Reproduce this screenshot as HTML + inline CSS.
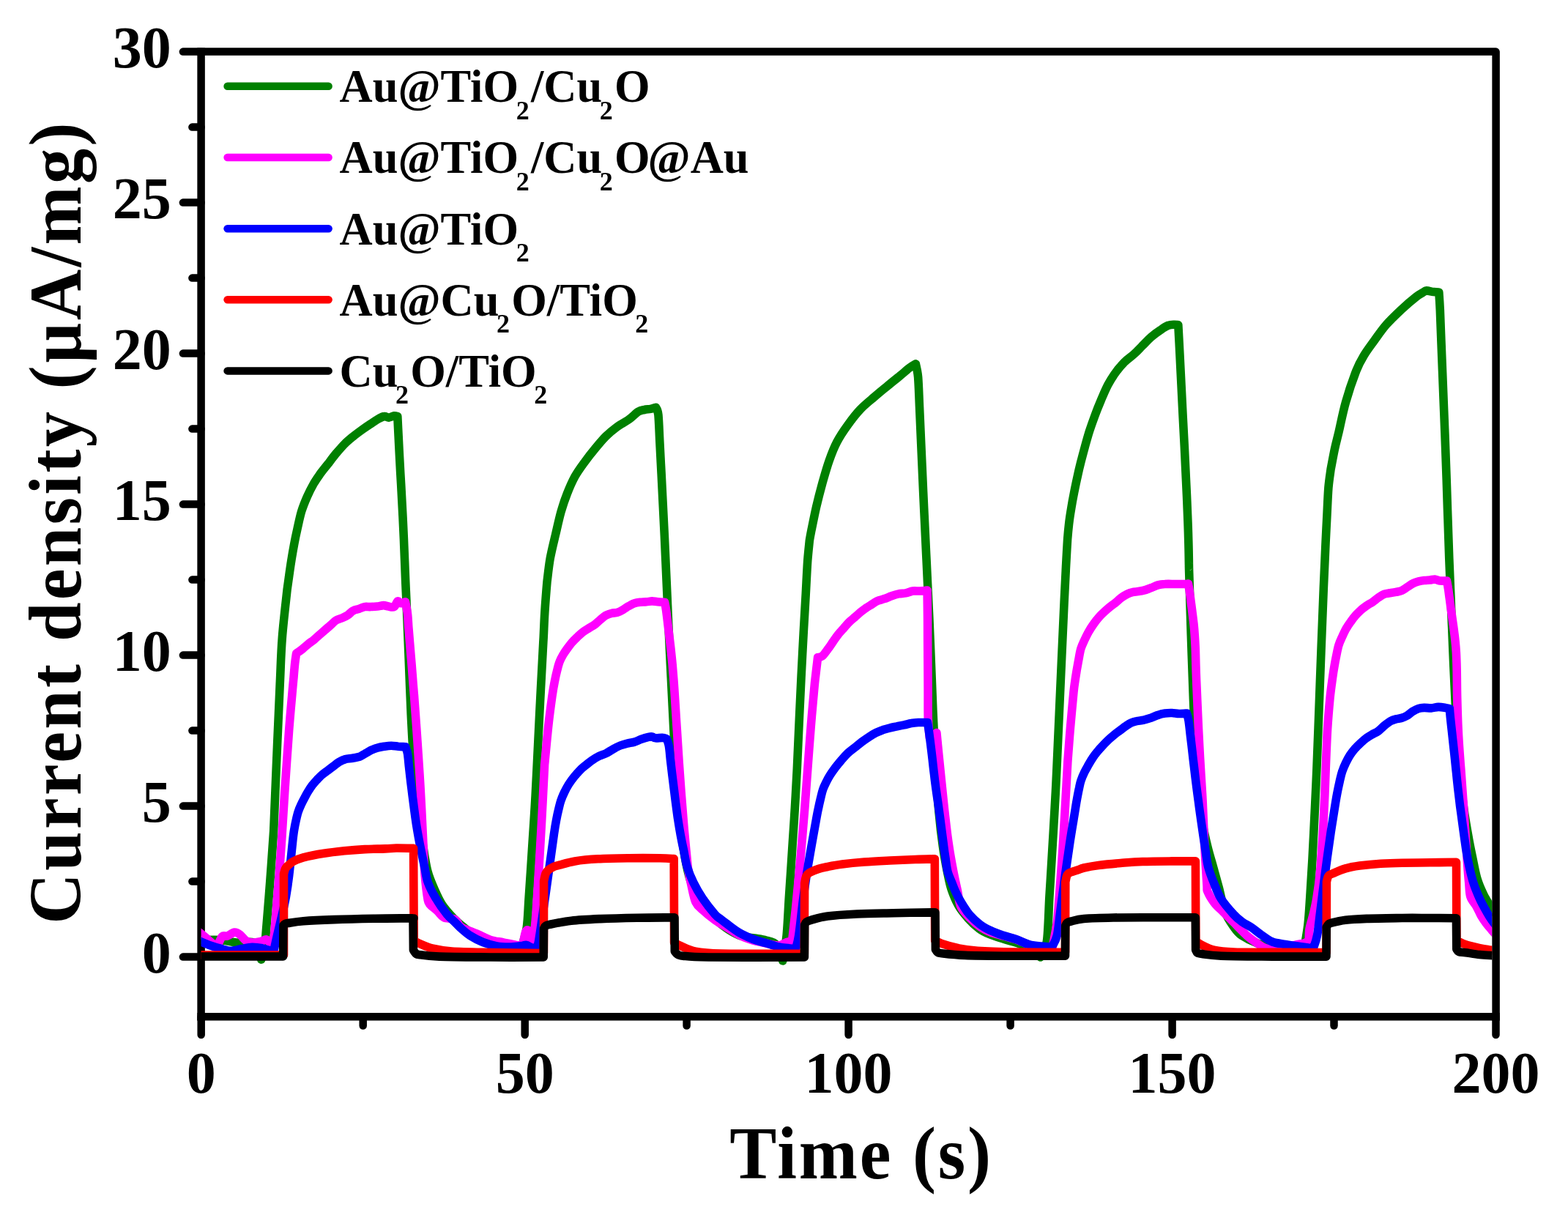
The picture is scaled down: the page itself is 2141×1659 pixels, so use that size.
<!DOCTYPE html>
<html lang="en">
<head>
<meta charset="utf-8">
<title>Current density vs Time</title>
<style>
html,body{margin:0;padding:0;background:#fff;}
body{width:2141px;height:1659px;overflow:hidden;}
svg{display:block;}
text{font-family:"Liberation Serif","DejaVu Serif",serif;font-weight:bold;fill:#000;}
.ax{stroke:#000;stroke-width:10.5;fill:none;stroke-linecap:round;}
.cv{fill:none;stroke-width:11.6;stroke-linejoin:round;stroke-linecap:butt;}
.lg{stroke-width:10.5;stroke-linecap:round;fill:none;}
.tk{font-size:80px;}
.tt{font-size:102.3px;}
.lt{font-size:62.5px;}
.sb{font-size:36px;}
</style>
</head>
<body>
<svg width="2141" height="1659" viewBox="0 0 2141 1659">
<rect x="0" y="0" width="2141" height="1659" fill="#fff"/>
<defs><clipPath id="clip"><rect x="274.6" y="70.6" width="1762.8" height="1317.7"/></clipPath></defs>
<g class="ax">
<path d="M274.6 65.3 V1393.5" stroke-linecap="butt"/>
<path d="M269.4 1388.3 H2047.8" stroke-linecap="butt"/>
<path d="M274.6 1306.6 H249.9"/>
<path d="M274.6 1100.6 H249.9"/>
<path d="M274.6 894.6 H249.9"/>
<path d="M274.6 688.6 H249.9"/>
<path d="M274.6 482.6 H249.9"/>
<path d="M274.6 276.6 H249.9"/>
<path d="M274.6 70.6 H249.9"/>
<path d="M274.6 1203.6 H262.4"/>
<path d="M274.6 997.6 H262.4"/>
<path d="M274.6 791.6 H262.4"/>
<path d="M274.6 585.6 H262.4"/>
<path d="M274.6 379.6 H262.4"/>
<path d="M274.6 173.6 H262.4"/>
<path d="M274.7 1388.3 V1413"/>
<path d="M716.7 1388.3 V1413"/>
<path d="M1158.6 1388.3 V1413"/>
<path d="M1600.6 1388.3 V1413"/>
<path d="M2042.5 1388.3 V1413"/>
<path d="M495.7 1388.3 V1400.5"/>
<path d="M937.6 1388.3 V1400.5"/>
<path d="M1379.6 1388.3 V1400.5"/>
<path d="M1821.5 1388.3 V1400.5"/>
</g>
<g clip-path="url(#clip)">
<path class="cv" stroke="#008000" d="M274 1283.6C278.7 1283.6 293.9 1283 302 1283.6C310.2 1284.2 316 1286.7 323.1 1287.1C330.1 1287.6 339.2 1285.7 344.1 1286.4C349 1287.1 350.4 1287.4 352.5 1291.3C354.6 1295.3 356 1307.1 356.7 1310.2C357.4 1307.6 360 1301.5 361.2 1294.1C362.4 1286.8 362.5 1281.3 363.8 1266.1C365.1 1250.9 367.2 1224.1 368.8 1203.1C370.4 1182 372.4 1153.1 373.3 1140C374.1 1126.9 373.2 1144.5 374.1 1124.3C375 1104.1 377.1 1050.4 378.5 1018.8C379.8 987.1 381.1 959 382.2 934.4C383.4 909.8 383.6 892.7 385.3 871.1C386.9 849.5 391 816 392.1 805C392.5 802.3 393.5 795.1 394.4 788.6C395.3 782.1 396.5 773.5 397.7 766C398.9 758.4 400.2 750.9 401.6 743.4C403 735.8 404.6 728.3 406.3 720.8C408 713.2 409.6 705.2 411.7 698.2C413.9 691.1 416.5 684.8 419.2 678.6C422 672.3 425.3 665.8 428.3 660.5C431.3 655.2 434.1 651.4 437.3 646.9C440.6 642.4 444.4 637.9 447.9 633.4C451.4 628.8 454.7 624.3 458.4 619.8C462.2 615.3 466.5 610.3 470.5 606.2C474.5 602.2 478.5 599 482.5 595.7C486.6 592.4 490.6 589.5 494.6 586.6C498.6 583.8 502.9 580.9 506.7 578.4C510.4 575.8 514.2 573.2 517.2 571.6C520.2 569.9 522.5 568.8 524.7 568.6C527 568.3 528.5 570.2 530.8 570.1C533 569.9 536.3 568.1 538.3 567.8C540.3 567.6 542.1 568.4 542.8 568.6C542.9 571.3 543.2 577.4 543.6 585.1C544 592.9 544.6 605.2 545.1 615.3C545.6 625.3 546.2 635.4 546.7 645.4C547.3 655.5 547.9 665.5 548.4 675.6C548.9 685.6 549.5 695.6 550 705.7C550.5 715.7 550.9 725.8 551.4 735.8C551.8 745.9 552.1 754.4 552.6 766C553 777.5 553.6 792 554.2 805C554.8 818 555.3 828.1 555.9 843.9C556.6 859.7 557.3 877.8 558.2 900C559.1 922.2 560.2 953.7 561.3 977C562.5 1000.3 563.4 1019.5 564.9 1040C566.4 1060.5 568.2 1080.8 570.3 1100C572.5 1119.2 575.5 1140 577.7 1155C580 1170 581.3 1179.8 584 1190C586.7 1200.2 590.8 1208.7 594 1216C597.2 1223.3 599.7 1228.7 603 1234C606.3 1239.3 609.8 1243.3 614 1248C618.2 1252.7 622.8 1257.5 628 1262C633.2 1266.5 639.3 1271.3 645 1275C650.7 1278.7 656.2 1281.5 662 1284C667.8 1286.5 673.7 1288.5 680 1290C686.3 1291.5 694.7 1292.3 700 1293C705.3 1293.7 710 1293.8 712 1294C713.2 1289.5 717.5 1278.3 719.2 1266.8C720.9 1255.3 720.9 1243.5 722.2 1224.8C723.5 1206.2 725.5 1175.3 726.8 1154.9C728.2 1134.5 729.1 1119.9 730.2 1102.4C731.2 1085 732 1071 733 1050C734.1 1029 735.2 1002.9 736.6 976.6C737.9 950.3 740 910 741 892.2C741.9 874.4 741.7 879.3 742.2 870C742.7 860.7 743 849.1 743.8 836.5C744.6 823.8 746.4 801.3 747 794.3C747.7 789 749.3 773.2 751.2 762.6C753.1 752.1 755.8 741.5 758.3 731C760.8 720.4 763.3 708.8 765.9 699.3C768.6 689.8 771.2 682.1 774.4 674C777.6 665.9 781.1 657.8 784.9 650.8C788.8 643.8 793 638.1 797.6 631.8C802.2 625.5 807.4 618.8 812.4 612.8C817.3 606.8 822.2 600.9 827.1 595.9C832.1 591 836.6 587.2 841.9 583.3C847.2 579.4 853.9 576.3 858.8 572.7C863.7 569.2 867.9 564.4 871.4 562.2C875 560 877.1 560.1 879.9 559.5C882.7 558.8 885.7 558.9 888.3 558.4C890.9 557.9 894.5 556.6 895.7 556.3C896.2 558 898 558.4 898.9 566.4C899.7 574.4 900.2 591 900.9 604.4C901.6 617.7 902.3 632.5 903.1 646.6C903.8 660.6 904.5 674.7 905.2 688.8C905.9 702.8 906.6 716.9 907.3 731C907.9 745 908.6 759.1 909.2 773.2C909.9 787.2 910.4 801.3 911.1 815.4C911.7 829.4 911.8 834.2 913 857.6C914.1 880.9 916.4 928.6 917.8 955.5C919.1 982.4 919.9 997.7 921.1 1018.8C922.3 1039.9 923.5 1062.7 924.9 1082C926.4 1101.3 927.9 1119.3 929.8 1134.8C931.6 1150.3 934.1 1164.1 936.1 1175C938.2 1185.9 939.4 1192.2 942 1200C944.6 1207.8 948.2 1215 952 1222C955.8 1229 960.3 1236 965 1242C969.7 1248 974.8 1253.3 980 1258C985.2 1262.7 990.7 1266.7 996 1270C1001.3 1273.3 1006.3 1276.2 1012 1278C1017.7 1279.8 1024.3 1280 1030 1281C1035.7 1282 1041 1282.5 1046 1284C1051 1285.5 1056.2 1285.3 1060 1290C1063.8 1294.7 1067.3 1308.3 1068.8 1312C1069.7 1306.2 1072.6 1291.8 1074.1 1277.3C1075.5 1262.7 1076.1 1245.2 1077.4 1224.8C1078.8 1204.4 1080.7 1175.3 1082 1154.9C1083.3 1134.5 1084.4 1119.9 1085.4 1102.4C1086.4 1085 1087.2 1071 1088.3 1050C1089.3 1029 1090.3 1002.9 1091.6 976.6C1092.8 950.3 1094.2 920 1095.7 892.2C1097.1 864.4 1099.1 831 1100.3 810C1101.4 789 1101.9 777.8 1102.7 765.9C1103.6 754 1104.9 743.1 1105.3 738.5C1105.7 736 1106.5 731.4 1108 723.7C1109.6 716 1112.2 702.6 1114.6 692.1C1117.1 681.5 1119.8 671 1122.7 660.4C1125.7 649.9 1128.9 638.3 1132.3 628.8C1135.6 619.3 1138.6 611.5 1142.8 603.5C1147 595.4 1152.3 587.6 1157.6 580.3C1162.9 572.9 1168.5 565.5 1174.5 559.2C1180.5 552.8 1187.1 547.7 1193.5 542.3C1199.8 536.8 1206.5 531.4 1212.4 526.5C1218.4 521.5 1224.4 516.8 1229.3 512.7C1234.2 508.7 1238.5 504.8 1242 502.2C1245.5 499.6 1249 497.8 1250.4 496.9C1250.9 499.9 1252.7 505.2 1253.6 514.9C1254.4 524.5 1254.8 539.5 1255.5 554.9C1256.2 570.4 1257 588.3 1257.8 607.7C1258.7 627 1259.8 653.4 1260.6 671C1261.4 688.6 1261.9 699.1 1262.6 713.2C1263.3 727.2 1263.9 741.3 1264.6 755.4C1265.3 769.4 1266 782.9 1266.6 797.6C1267.3 812.2 1268 825.1 1268.8 843.3C1269.6 861.5 1270.6 885.5 1271.4 906.6C1272.3 927.7 1272.9 946 1273.9 969.9C1275 993.8 1276.5 1026.7 1277.8 1050C1279.2 1073.3 1280.5 1092.5 1282.1 1110C1283.7 1127.5 1285.4 1141.7 1287.3 1155C1289.1 1168.3 1291.4 1180.2 1293.4 1190C1295.4 1199.8 1296.4 1206.2 1299 1214C1301.6 1221.8 1305.2 1230.3 1309 1237C1312.8 1243.7 1317.3 1248.8 1322 1254C1326.7 1259.2 1332 1264.3 1337 1268C1342 1271.7 1346.5 1273.7 1352 1276C1357.5 1278.3 1364.2 1280.2 1370 1282C1375.8 1283.8 1381.5 1285.3 1387 1287C1392.5 1288.7 1398.5 1291 1403 1292C1407.5 1293 1411.1 1290.5 1414 1293C1416.9 1295.5 1419.5 1304.7 1420.6 1307C1422.1 1303.5 1427.2 1299.7 1429.3 1286C1431.4 1272.3 1431.8 1243.8 1432.9 1224.8C1434.1 1205.9 1434.9 1192.8 1436.1 1172.4C1437.3 1152 1439.1 1122.8 1440.2 1102.4C1441.3 1082.1 1441.4 1082.6 1442.9 1050C1444.4 1017.4 1447.6 944.5 1449.3 906.6C1451 868.6 1452.1 843.3 1453.1 822.2C1454.1 801.1 1454.7 788.7 1455.2 780C1455.6 771.3 1455.3 777.3 1455.7 770C1456.1 762.7 1457 745.6 1457.6 736.5C1458.3 727.3 1458.8 722.4 1459.6 715.4C1460.4 708.3 1461.5 701.3 1462.7 694.3C1463.8 687.2 1465.1 680.2 1466.5 673.2C1467.9 666.1 1469.3 659.1 1470.9 652.1C1472.4 645 1474 638 1475.8 631C1477.6 623.9 1479.5 616.9 1481.4 609.9C1483.4 602.8 1485.3 595.8 1487.5 588.8C1489.8 581.7 1492.3 574.7 1494.9 567.7C1497.5 560.6 1500.3 553.6 1503.3 546.6C1506.3 539.5 1509.5 531.8 1512.8 525.5C1516.2 519.2 1519.5 513.9 1523.4 508.6C1527.2 503.3 1531.8 498.1 1536 493.8C1540.3 489.6 1544.8 486.8 1548.7 483.3C1552.6 479.8 1555.4 476.6 1559.2 472.7C1563.1 468.9 1567.7 463.8 1571.9 460.1C1576.1 456.4 1580.7 453.2 1584.6 450.6C1588.4 448 1591.9 445.5 1595.1 444.3C1598.3 443 1601.3 443.3 1603.5 443.2C1605.8 443.1 1607.9 443.6 1608.8 443.6C1609.2 450.2 1610.2 469.6 1610.9 483.3C1611.6 496.9 1612.3 511.4 1613 525.5C1613.7 539.5 1614.4 553.6 1615.1 567.7C1615.9 581.7 1616.6 595.8 1617.3 609.9C1618 623.9 1618.7 638 1619.3 652.1C1620 666.1 1620.7 680.2 1621.2 694.3C1621.8 708.3 1622.4 723.8 1622.7 736.5C1623.1 749.1 1623.3 762.4 1623.4 770C1623.6 777.6 1623.2 766.1 1623.7 782.2C1624.2 798.3 1625.4 838.5 1626.3 866.6C1627.3 894.7 1628.2 923.8 1629.3 951C1630.4 978.2 1631.5 1007.5 1632.8 1030C1634.1 1052.5 1635.3 1069.3 1637 1086C1638.7 1102.7 1641 1117.7 1643.1 1130C1645.3 1142.3 1647.6 1151 1649.8 1160C1652.1 1169 1654.2 1175.3 1656.6 1184C1659 1192.7 1661.6 1201.8 1664.3 1212C1667 1222.2 1669.3 1236 1672.7 1245C1676.1 1254 1681.1 1260.6 1684.9 1266C1688.7 1271.4 1690.2 1273.7 1695.4 1277.3C1700.7 1280.9 1709 1285.2 1716.4 1287.8C1723.8 1290.4 1731.9 1292 1740 1293C1748.1 1294 1758.2 1293.8 1765 1294C1771.8 1294.2 1778.3 1294 1781 1294C1781.8 1288.7 1784.7 1273.5 1786 1262C1787.3 1250.5 1787.8 1239.8 1788.8 1224.8C1789.8 1209.9 1790.8 1192.8 1792 1172.4C1793.1 1152 1794.5 1122.8 1795.5 1102.4C1796.5 1082.1 1797.1 1068.2 1797.9 1050C1798.6 1031.8 1799.1 1020.2 1800.1 993.2C1801.1 966.1 1802.8 919.3 1804 887.7C1805.2 856 1806.3 827.9 1807.3 803.3C1808.3 778.7 1809.4 755.5 1810.1 740C1810.8 724.5 1811 722.4 1811.6 710.1C1812.3 697.7 1813 677.5 1813.9 666C1814.9 654.4 1816.6 644.9 1817.1 640.6C1818 636.1 1820.6 621.6 1822.4 613.2C1824.2 604.8 1825.4 600.7 1828 590C1830.5 579.3 1833.6 562.7 1837.6 548.8C1841.5 535 1847.6 517.2 1851.7 506.6C1855.8 496.1 1858 492.6 1862.3 485.5C1866.5 478.5 1871.9 471.5 1877 464.4C1882.1 457.4 1886.7 450.4 1892.9 443.3C1899 436.3 1907.2 428.6 1914 422.2C1920.7 415.9 1928.8 409.2 1933.6 405.4C1938.4 401.6 1940.3 400.9 1942.7 399.5C1945 398.1 1945.5 397.1 1947.9 396.9C1950.4 396.8 1954.6 398.3 1957.4 398.6C1960.2 399 1963.6 399 1964.8 399C1965.1 403.1 1965.8 412.2 1966.3 423.3C1966.8 434.4 1967.2 447.9 1967.9 465.5C1968.6 483.1 1969.6 507.7 1970.4 528.8C1971.2 549.9 1972.1 571 1972.9 592.1C1973.7 613.2 1974.5 635.7 1975.2 655.4C1975.9 675.1 1976.3 692.1 1977 710.1C1977.6 728 1978.1 743.9 1978.8 763.3C1979.6 782.7 1980.5 805.5 1981.4 826.6C1982.2 847.7 1983.1 868.8 1984 889.9C1984.9 911 1985.8 931.5 1986.9 953.2C1988 974.9 1989.3 999.7 1990.7 1020C1992.1 1040.3 1993.8 1060 1995.3 1075C1996.8 1090 1998.1 1099.2 1999.6 1110C2001.2 1120.8 2002.8 1130 2004.6 1140C2006.3 1150 2008.3 1160 2010.4 1170C2012.5 1180 2014.4 1191.3 2017 1200C2019.6 1208.7 2022.9 1215.7 2026 1222C2029.1 1228.3 2032.5 1233.3 2035.5 1238C2038.5 1242.7 2042.6 1248 2044 1250"/>
<path class="cv" stroke="#ff00ff" d="M268.4 1270.3C269.3 1271 271.7 1272.6 274 1274.5C276.3 1276.4 279.6 1279.2 282.4 1281.5C285.2 1283.9 288.5 1286.9 290.8 1288.5C293.2 1290.2 294.3 1293 296.4 1291.3C298.5 1289.7 301.1 1280.9 303.4 1278.7C305.8 1276.5 307.6 1279 310.4 1278C313.2 1277.1 317.4 1273.5 320.3 1273.1C323.1 1272.8 324.7 1274 327.3 1275.9C329.8 1277.8 332.9 1282.5 335.7 1284.3C338.5 1286.2 340.8 1286.9 344.1 1287.1C347.3 1287.4 352 1286.4 355.3 1285.7C358.6 1285 361.4 1282.5 363.7 1282.9C366 1283.4 367.9 1286.7 369.3 1288.5C370.7 1290.4 371.6 1293.2 372.1 1294.1C372.4 1291.8 373.3 1289.5 374.2 1280.1C375.1 1270.8 376.3 1254.4 377.6 1238.1C378.9 1221.7 380.9 1198.4 382.1 1182C383.3 1165.7 384 1156.7 385.1 1140C386.2 1123.3 387.1 1105.8 388.7 1082.1C390.3 1058.3 393 1019.7 394.6 997.7C396.3 975.7 397.6 962.1 398.7 950C399.7 937.9 400.3 932.4 401 925C401.6 917.6 402.1 911.2 402.7 905.7C403.3 900.3 404.3 894.5 404.6 892.2C406 891.3 410.1 888.5 412.8 886.4C415.4 884.3 417.9 881.8 420.5 879.7C423.1 877.6 425.6 876 428.2 873.9C430.8 871.8 433.4 869.4 435.9 867.1C438.5 864.9 441.1 862.6 443.6 860.4C446.2 858.1 448.8 855.9 451.4 853.6C453.9 851.4 456.5 848.5 459.1 846.9C461.6 845.3 464.2 845.1 466.8 844C469.4 842.9 471.9 841.8 474.5 840.1C477.1 838.5 479.6 835.3 482.2 833.9C484.8 832.4 487.4 832.3 489.9 831.5C492.5 830.6 495.1 829.1 497.6 828.6C500.2 828.1 502.5 828.7 505.4 828.6C508.3 828.5 512 828.4 515 828.1C518.1 827.8 521.1 826.6 523.7 826.6C526.3 826.6 528 827.8 530.4 828.1C532.8 828.4 536.1 829.8 538.1 828.6C540.2 827.4 541.4 821.7 543 820.9C544.6 820.1 546 823.6 547.8 823.8C549.6 823.9 552.6 822.1 553.6 821.8C554.1 824.6 555.7 832.3 556.5 838.2C557.2 844.2 557.4 851.1 557.9 857.5C558.5 863.9 559 870.4 559.5 876.8C560 883.2 560.6 889.6 561.1 896.1C561.7 902.5 562.2 908.9 562.7 915.4C563.2 921.8 563.8 929 564.2 934.6C564.7 940.3 565.1 945.6 565.4 949.1C565.7 952.6 565.1 943.9 565.9 955.5C566.8 967.1 569 997.7 570.4 1018.8C571.8 1039.9 573.3 1061 574.4 1082.1C575.6 1103.2 576.8 1128.5 577.6 1145.4C578.4 1162.2 578.7 1173.4 579.3 1183.4C579.9 1193.4 580.3 1197.9 581.1 1205.1C581.9 1212.3 583 1221.9 583.9 1226.8C584.8 1231.7 584.4 1231.5 586.6 1234.4C588.9 1237.3 594.1 1241 597.4 1244.1C600.6 1247.2 602.1 1250.9 606.1 1252.8C610.1 1254.7 617.6 1253.5 621.3 1255.5C624.9 1257.5 625.7 1262.3 628 1264.5C630.3 1266.7 630.8 1266.7 634.9 1268.5C639 1270.4 646.6 1273 652.4 1275.5C658.2 1278 664 1281.5 669.9 1283.4C675.7 1285.3 681.5 1285.7 687.3 1286.9C693.2 1288.1 700.5 1289.7 704.8 1290.4C709.2 1291.1 712.1 1291.1 713.6 1291.3C714.3 1288.1 716.5 1275.2 717.9 1272C719.4 1268.8 720.9 1269.1 722.3 1272C723.8 1274.9 725.9 1286.6 726.7 1289.5C727.4 1284.6 729.6 1276.4 731 1259.8C732.5 1243.2 734.2 1213.2 735.6 1189.9C737.1 1166.6 738.4 1143.2 739.7 1119.9C741 1096.6 742.6 1063.3 743.3 1050C744 1036.7 743 1050.4 744 1039.9C745 1029.4 747.5 1002.1 749.2 987.1C750.9 972.1 752.7 959.5 754 950C755.4 940.4 756.3 935.6 757.5 929.8C758.6 924.1 759.6 919.7 760.7 915.4C761.8 911 762.6 907.3 764 903.8C765.3 900.3 767 897.2 768.8 894.1C770.6 891.1 772.5 888.4 774.6 885.5C776.7 882.6 778.9 879.5 781.3 876.8C783.7 874.1 786.5 871.5 789 869.1C791.6 866.7 794.2 864.3 796.8 862.3C799.3 860.4 801.9 859.1 804.5 857.5C807 855.9 809.6 854.6 812.2 852.7C814.8 850.8 817.3 848 819.9 845.9C822.5 843.8 825 841.6 827.6 840.1C830.2 838.7 832.8 837.9 835.3 837.3C837.9 836.6 840.5 837.1 843 836.3C845.6 835.5 848.2 833.9 850.8 832.4C853.3 831 855.9 829.1 858.5 827.6C861 826.2 863.6 824.6 866.2 823.8C868.8 822.9 871.2 822.6 873.9 822.3C876.6 822 879.8 822.1 882.6 821.8C885.3 821.6 887.7 820.9 890.3 820.9C892.9 820.9 895.1 821.6 898 821.8C900.9 822.1 906 822.2 907.6 822.3C908 824.2 909 829.1 909.6 833.4C910.2 837.7 910.7 842.2 911.4 847.9C912 853.5 912.9 860.7 913.7 867.1C914.5 873.6 915.3 880 916 886.4C916.7 892.9 917.4 899.3 918 905.7C918.6 912.1 919.1 918.6 919.6 925C920.1 931.4 920.2 932.2 921 944.3C921.8 956.4 923.1 978.2 924.4 997.7C925.6 1017.1 927 1039.9 928.6 1061C930.1 1082.1 931.8 1104.9 933.5 1124.3C935.1 1143.6 937.4 1166.1 938.5 1177C939.6 1187.9 939.3 1184.8 940.2 1189.9C941.1 1194.9 942 1200.3 943.7 1207.3C945.3 1214.3 947.2 1225.9 949.9 1231.8C952.7 1237.8 955.7 1239 960 1243C964.3 1247 970.7 1252.2 976 1256C981.3 1259.8 986.3 1262.5 992 1266C997.7 1269.5 1004 1274 1010 1277C1016 1280 1022 1282.2 1028 1284C1034 1285.8 1040.2 1286.8 1046 1288C1051.8 1289.2 1058 1291.3 1063 1291C1068 1290.7 1072.8 1286.2 1075.8 1286C1078.8 1285.8 1080.1 1289.3 1081 1290C1081.9 1282.1 1084.8 1256.1 1086.3 1242.3C1087.7 1228.5 1088.3 1221.9 1089.7 1207.3C1091.1 1192.8 1093 1172.4 1094.5 1154.9C1096 1137.4 1097.5 1119.9 1098.9 1102.4C1100.2 1085 1101.4 1068.6 1102.8 1050C1104.2 1031.4 1105.8 1009.3 1107.3 991C1108.8 972.6 1110.7 951 1111.8 940C1112.8 928.9 1112.8 929.6 1113.4 924.6C1114 919.7 1114.6 914.7 1115.1 910.2C1115.7 905.7 1116.3 899.7 1116.6 897.6C1117.6 897.3 1120.5 897.6 1122.9 895.7C1125.2 893.8 1128.2 889.3 1130.6 886.1C1133 882.9 1135.1 879.6 1137.3 876.4C1139.6 873.2 1141.7 869.8 1144.1 866.8C1146.5 863.7 1149.2 861 1151.8 858.1C1154.4 855.2 1156.9 852 1159.5 849.4C1162.1 846.9 1164.6 844.9 1167.2 842.7C1169.8 840.4 1172.4 838 1174.9 835.9C1177.5 833.8 1180.1 831.9 1182.6 830.1C1185.2 828.4 1187.8 826.9 1190.4 825.3C1192.9 823.7 1195.2 821.8 1198.1 820.5C1201 819.2 1204.5 818.7 1207.7 817.6C1210.9 816.5 1214.1 814.9 1217.4 813.8C1220.6 812.6 1223.8 811.5 1227 810.9C1230.2 810.2 1233.4 810.5 1236.6 809.9C1239.9 809.3 1243.1 807.5 1246.3 807C1249.5 806.5 1252.6 807.2 1255.9 807C1259.2 806.8 1264.4 806.2 1266.1 806C1266.1 811.3 1266.4 826.1 1266.5 837.9C1266.7 849.6 1266.6 859.4 1266.7 876.4C1266.8 893.5 1267 922.3 1267.1 940C1267.2 957.7 1266.9 971.2 1267.3 982.5C1267.7 993.8 1269.1 1003.6 1269.4 1007.8L1278.9 1000.5C1279.4 1005.9 1280.8 1020.7 1282.1 1033.2C1283.3 1045.6 1284.9 1060.9 1286.4 1075.4C1287.9 1089.8 1289.6 1106.7 1291.2 1119.9C1292.7 1133.2 1293.9 1143.2 1295.7 1154.9C1297.4 1166.6 1299.8 1179.7 1301.8 1189.9C1303.7 1200.1 1305.7 1208.1 1307.4 1216.1C1309.1 1224.1 1309.1 1231.7 1312 1238C1314.9 1244.3 1320.5 1249.3 1325 1254C1329.5 1258.7 1334.3 1262.8 1339 1266C1343.7 1269.2 1347.8 1271 1353 1273C1358.2 1275 1364.2 1276.3 1370 1278C1375.8 1279.7 1382.2 1281 1388 1283C1393.8 1285 1399.3 1288.3 1405 1290C1410.7 1291.7 1416.7 1292.3 1422 1293C1427.3 1293.7 1434.5 1293.8 1437 1294C1438 1288.3 1441.7 1271.3 1443.3 1259.8C1444.8 1248.3 1445.1 1239.4 1446.3 1224.8C1447.4 1210.3 1448.9 1189.9 1450.1 1172.4C1451.3 1154.9 1452.2 1140.3 1453.4 1119.9C1454.6 1099.5 1456.5 1064.1 1457.3 1050C1458.1 1035.9 1457.5 1044.8 1458.2 1035.4C1458.9 1025.9 1460.2 1008.3 1461.5 993.2C1462.8 978 1465 955.2 1466 944.6C1467.1 934.1 1467.2 935 1467.9 930C1468.6 925 1469.5 919.6 1470.3 914.6C1471.2 909.7 1472 905 1472.9 900.2C1473.8 895.4 1474.6 890.1 1475.9 885.7C1477.2 881.4 1478.9 878 1480.7 874.1C1482.5 870.3 1484.4 866.3 1486.5 862.6C1488.6 858.9 1491 855.2 1493.3 852C1495.5 848.8 1497.6 846 1500 843.3C1502.4 840.6 1505.1 838 1507.7 835.6C1510.3 833.2 1512.9 830.9 1515.4 828.8C1518 826.7 1520.6 825.1 1523.1 823C1525.7 820.9 1528.3 818.2 1530.9 816.3C1533.4 814.4 1536 812.8 1538.6 811.5C1541.1 810.2 1543.7 809.2 1546.3 808.6C1548.9 807.9 1551.4 808 1554 807.6C1556.6 807.2 1558.8 807 1561.7 806.2C1564.6 805.4 1568.1 804 1571.4 802.8C1574.6 801.6 1577.8 799.8 1581 798.9C1584.2 798 1586.6 797.7 1590.6 797.5C1594.7 797.2 1600.3 797.5 1605.1 797.5C1609.9 797.5 1616.7 797.6 1619.6 797.5C1622.5 797.4 1622 797.1 1622.5 797C1622.8 798.9 1623.8 804.2 1624.4 808.6C1625 812.9 1625.7 818.2 1626.3 823C1627 827.9 1627.6 832.7 1628.2 837.5C1628.8 842.3 1629.4 847.1 1630 852C1630.5 856.8 1630.9 860.8 1631.2 866.4C1631.6 872.1 1632 879.3 1632.3 885.7C1632.5 892.1 1632.6 897.8 1632.8 905C1633 912.2 1633 914.4 1633.6 929.1C1634.2 943.8 1635.6 975.5 1636.4 993.2C1637.2 1010.9 1637.8 1019.9 1638.6 1035.4C1639.5 1050.8 1641 1074.8 1641.7 1086C1642.3 1097.2 1642 1091 1642.5 1102.4C1643 1113.9 1644 1137.4 1644.8 1154.9C1645.7 1172.4 1647.2 1196.9 1647.9 1207.3C1648.6 1217.8 1647.3 1213.5 1649.1 1217.8C1650.9 1222.2 1655 1228.9 1658.7 1233.6C1662.3 1238.2 1666.5 1241.4 1670.9 1245.8C1675.3 1250.2 1679.7 1254.5 1684.9 1259.8C1690.1 1265 1697.1 1272.6 1702.4 1277.3C1707.6 1281.9 1712 1284.8 1716.4 1287.8C1720.7 1290.7 1723.6 1293.6 1728.6 1294.8C1733.6 1295.9 1738.8 1295.6 1746.1 1294.8C1753.4 1293.9 1766.5 1290.7 1772.3 1289.5C1778.1 1288.3 1778.6 1288.6 1781 1287.8C1783.5 1286.9 1786.1 1284.8 1787.2 1284.3C1787.3 1281.6 1787 1274.7 1788 1268.5C1789.1 1262.4 1791.7 1254.8 1793.4 1247.6C1795.1 1240.3 1796.6 1234.4 1798.1 1224.8C1799.7 1215.2 1801.2 1204.4 1802.6 1189.9C1803.9 1175.3 1805.2 1154.9 1806.3 1137.4C1807.3 1119.9 1808.2 1099.5 1808.9 1085C1809.5 1070.4 1809.6 1064.9 1810.2 1050C1810.8 1035.1 1811.6 1011.5 1812.6 995.4C1813.6 979.3 1814.9 964.9 1816 953.2C1817.2 941.5 1818.6 932.2 1819.6 925C1820.6 917.7 1821.1 914.6 1822 909.6C1822.8 904.7 1823.7 900 1824.7 895.2C1825.7 890.4 1826.6 885.1 1828 880.7C1829.3 876.4 1831 873 1832.8 869.1C1834.6 865.3 1836.6 860.9 1838.6 857.6C1840.5 854.2 1842.3 851.8 1844.4 848.9C1846.4 846 1848.7 842.9 1851.1 840.2C1853.5 837.5 1856.3 834.8 1858.8 832.5C1861.4 830.3 1864 828.5 1866.5 826.7C1869.1 824.9 1871.7 823.7 1874.3 821.9C1876.8 820.1 1879.4 817.9 1882 816.1C1884.5 814.3 1887.1 812.3 1889.7 811.3C1892.3 810.2 1894.7 810.3 1897.4 809.8C1900.1 809.4 1903.3 809 1906.1 808.4C1908.8 807.8 1911.2 807.6 1913.8 806.5C1916.4 805.3 1918.9 803.3 1921.5 801.6C1924.1 800 1926.6 798.1 1929.2 796.8C1931.8 795.5 1934.4 794.7 1936.9 793.9C1939.5 793.2 1942.1 792.8 1944.6 792.5C1947.2 792.2 1950 792.2 1952.4 792C1954.8 791.8 1956.9 790.9 1959.1 791C1961.4 791.2 1963.1 792.6 1965.9 793C1968.6 793.3 1973.9 793 1975.5 793C1975.8 794.7 1976.8 799.4 1977.4 803.6C1978.1 807.8 1978.7 813.2 1979.4 818C1980 822.9 1980.7 827.7 1981.3 832.5C1982 837.3 1982.7 842.1 1983.4 847C1984.1 851.8 1984.8 856.6 1985.4 861.4C1986 866.3 1986.7 871.1 1987.1 875.9C1987.6 880.7 1988 885.5 1988.3 890.4C1988.6 895.2 1988.7 899.2 1988.9 904.8C1989.1 910.5 1989.2 916 1989.3 924.1C1989.4 932.2 1989.4 941.3 1989.7 953.2C1990 965.1 1990.4 981.3 1991.1 995.4C1991.7 1009.5 1993 1027.1 1993.8 1037.6C1994.5 1048.1 1994.5 1045.4 1995.4 1058.6C1996.4 1071.7 1998.1 1095.7 1999.5 1116.5C2000.9 1137.3 2002.8 1168.6 2003.9 1183.4C2004.9 1198.2 2005.1 1198.2 2005.7 1205.1C2006.4 1212 2006.2 1219.2 2007.9 1224.6C2009.6 1230 2013.6 1233.3 2016 1237.6C2018.4 1241.9 2020.3 1246.8 2022.5 1250.6C2024.7 1254.4 2026.6 1257.1 2029 1260.4C2031.4 1263.7 2034.3 1266.9 2037.1 1270.2C2039.9 1273.5 2044.5 1278.4 2046 1280"/>
<path class="cv" stroke="#0000ff" d="M268.4 1282.9C269.3 1283.4 270.7 1284.3 274 1285.7C277.3 1287.1 283.4 1289.7 288 1291.3C292.7 1293 297.4 1294.4 302 1295.5C306.7 1296.7 311.4 1298.3 316 1298.3C320.7 1298.3 325.4 1296.4 330.1 1295.5C334.7 1294.7 339.4 1293.5 344.1 1293.4C348.7 1293.3 353.9 1294 358.1 1294.8C362.3 1295.7 366.7 1297.5 369.3 1298.3C371.9 1299.2 372.8 1299.5 373.5 1299.7C374 1297.6 375.3 1291.6 376.3 1287.1C377.3 1282.7 377.8 1280.1 379.5 1273.1C381.1 1266.1 384.3 1253.3 386.1 1245.1C388 1236.9 389.1 1232.2 390.5 1224.1C391.9 1215.9 393 1209.3 394.6 1196C396.2 1182.8 398.9 1155.6 400.1 1144.6C401.4 1133.7 401.4 1134.7 402.2 1130.2C403 1125.7 404 1121.2 404.8 1117.6C405.6 1114.1 406 1112 407 1109C408 1105.9 409.4 1102.5 410.9 1099.3C412.3 1096.1 414.1 1092.7 415.7 1089.7C417.3 1086.6 418.7 1083.9 420.5 1081C422.3 1078.1 424.2 1075.1 426.3 1072.3C428.4 1069.6 430.8 1067 433 1064.6C435.3 1062.2 437.4 1059.9 439.8 1057.9C442.2 1055.8 444.9 1054 447.5 1052.1C450.1 1050.1 452.6 1048.2 455.2 1046.3C457.8 1044.4 460.2 1042.1 462.9 1040.5C465.7 1038.9 468.6 1037.5 471.6 1036.6C474.7 1035.8 478 1035.8 481.3 1035.2C484.5 1034.6 488 1034.3 490.9 1033.3C493.8 1032.2 496 1030.4 498.6 1028.9C501.2 1027.5 503.6 1025.9 506.3 1024.6C509.1 1023.3 512 1022.1 515 1021.2C518.1 1020.3 521.4 1019.8 524.6 1019.3C527.9 1018.8 531.1 1018.3 534.3 1018.3C537.5 1018.3 540.7 1019 543.9 1019.3C547.1 1019.5 552 1019.7 553.6 1019.8C554.1 1021.3 555.6 1024.2 556.5 1028.9C557.3 1033.7 557.9 1041.8 558.6 1048.2C559.3 1054.6 560.1 1061.1 560.8 1067.5C561.6 1073.9 562.4 1080.4 563.2 1086.8C564 1093.2 564.8 1099.6 565.7 1106.1C566.5 1112.5 567.4 1118.9 568.4 1125.4C569.4 1131.8 570.6 1138.6 571.7 1144.6C572.8 1150.7 573.7 1155.2 575.1 1161.7C576.4 1168.2 578.1 1176.2 579.6 1183.4C581.2 1190.6 581.8 1197.9 584.4 1205.1C587 1212.3 590.9 1219.6 595.2 1226.8C599.5 1234 606 1243.1 610.4 1248.5C614.8 1253.9 618 1256 621.3 1259.3C624.6 1262.5 626.6 1265 630 1268C633.4 1271 637 1274.4 641.9 1277.5C646.8 1280.6 653.3 1284.1 659.4 1286.5C665.5 1288.9 672.2 1290.9 678.6 1292C685 1293.1 692 1293.1 697.8 1293C703.7 1292.9 710.1 1291.7 713.6 1291.3C717.1 1290.8 716.8 1289.9 718.8 1290.4C720.9 1290.8 723.5 1293.2 725.8 1293.9C728.1 1294.6 731.6 1294.6 732.8 1294.8C733.2 1293.3 734.3 1291.8 735.4 1286C736.5 1280.2 737.5 1272.9 739.4 1259.8C741.3 1246.7 744.3 1225.6 746.9 1207.3C749.5 1189 753.2 1162.1 754.9 1150C756.6 1137.9 756.3 1139.6 757.1 1134.6C757.8 1129.7 758.6 1125 759.5 1120.2C760.4 1115.4 761.5 1110.2 762.6 1105.7C763.7 1101.2 764.5 1097.2 765.9 1093.2C767.2 1089.2 768.9 1085.3 770.7 1081.6C772.5 1077.9 774.3 1074.5 776.5 1071C778.8 1067.5 781.6 1063.6 784.2 1060.4C786.8 1057.2 789.4 1054.3 791.9 1051.7C794.5 1049.1 796.9 1047.2 799.6 1045C802.4 1042.7 805.3 1040.3 808.3 1038.2C811.4 1036.1 814.8 1034 818 1032.4C821.2 1030.8 824.4 1030.2 827.6 1028.6C830.8 1027 834 1024.6 837.3 1022.8C840.5 1021 843.7 1019.3 846.9 1018C850.1 1016.7 853.3 1015.9 856.5 1015.1C859.8 1014.3 863 1014.1 866.2 1013.1C869.4 1012.2 872.6 1010.4 875.8 1009.3C879 1008.2 883.1 1007 885.5 1006.4C887.9 1005.8 888.7 1005.7 890.3 1005.9C891.9 1006.2 892.7 1007.6 895.1 1007.8C897.5 1008.1 902.2 1007.2 904.8 1007.4C907.3 1007.5 909.6 1008.6 910.5 1008.8C911 1010.5 912.6 1014 913.4 1018.9C914.3 1023.8 914.8 1031.8 915.5 1038.2C916.3 1044.6 917 1051.1 917.8 1057.5C918.6 1063.9 919.4 1070.4 920.2 1076.8C921 1083.2 921.8 1089.6 922.6 1096.1C923.5 1102.5 924.3 1108.9 925.2 1115.4C926.2 1121.8 927.3 1129 928.3 1134.6C929.2 1140.3 930.1 1144.6 931 1149.1C931.9 1153.6 932.5 1156 933.7 1161.7C934.9 1167.4 936 1176.2 938.2 1183.4C940.4 1190.6 943.4 1197.9 946.9 1205.1C950.4 1212.3 954.5 1219.6 959.4 1226.8C964.3 1234 972.1 1243.8 976.2 1248.5C980.3 1253.2 981.4 1252.9 984 1255C986.6 1257.1 987.7 1257.9 991.9 1261C996.1 1264.1 1003.3 1269.9 1009.4 1273.5C1015.5 1277.1 1022.5 1280.1 1028.6 1282.5C1034.7 1284.9 1040.3 1286 1046.1 1287.8C1051.9 1289.5 1058.3 1291.8 1063.6 1293C1068.8 1294.2 1073.8 1294.2 1077.6 1294.8C1081.3 1295.3 1084.8 1296.2 1086.3 1296.5C1087 1293.3 1088.9 1289.2 1090.7 1277.3C1092.5 1265.3 1094.9 1240.9 1097 1224.8C1099.2 1208.8 1100.6 1198.6 1103.5 1181.1C1106.4 1163.6 1112 1132.7 1114.3 1120C1116.6 1107.2 1116.2 1109.6 1117.3 1104.6C1118.3 1099.7 1119.4 1094.7 1120.5 1090.2C1121.6 1085.7 1122.4 1081.5 1123.8 1077.6C1125.1 1073.8 1127 1070.3 1128.6 1067C1130.2 1063.8 1131.5 1061.4 1133.4 1058.4C1135.3 1055.3 1137.7 1051.9 1140.1 1048.7C1142.6 1045.5 1145 1042.4 1147.9 1039.1C1150.8 1035.7 1154.3 1031.5 1157.5 1028.5C1160.7 1025.4 1163.9 1023.3 1167.1 1020.8C1170.4 1018.2 1173.6 1015.4 1176.8 1013C1180 1010.6 1183.2 1008.4 1186.4 1006.3C1189.6 1004.2 1192.9 1002.1 1196.1 1000.5C1199.3 998.9 1202.5 997.8 1205.7 996.6C1208.9 995.5 1212.1 994.6 1215.4 993.8C1218.6 992.9 1221.8 992.5 1225 991.8C1228.2 991.2 1231.4 990.6 1234.6 989.9C1237.9 989.2 1241.1 988 1244.3 987.5C1247.5 986.9 1250.2 986.7 1253.9 986.5C1257.6 986.4 1264.4 986.5 1266.5 986.5C1266.8 988.5 1267.7 993.3 1268.4 998.6C1269.1 1003.8 1270.1 1011.4 1270.9 1017.9C1271.7 1024.3 1272.5 1030.7 1273.2 1037.1C1273.9 1043.6 1274.6 1050 1275.4 1056.4C1276.1 1062.9 1276.9 1069.3 1277.8 1075.7C1278.7 1082.1 1279.6 1088.6 1280.6 1095C1281.5 1101.4 1281.9 1104.3 1283.3 1114.3C1284.6 1124.3 1287.3 1145.2 1288.6 1154.9C1289.8 1164.6 1290.2 1166.7 1291.1 1172.5C1291.9 1178.3 1292.5 1184.5 1293.9 1189.9C1295.3 1195.3 1298 1200.8 1299.7 1205.1C1301.4 1209.4 1302.4 1212.3 1304 1215.9C1305.6 1219.5 1307.4 1223.2 1309.4 1226.8C1311.4 1230.4 1313.6 1234 1315.9 1237.6C1318.2 1241.2 1319.8 1244.3 1323.5 1248.5C1327.2 1252.7 1333.6 1258.8 1338.4 1262.5C1343.2 1266.2 1347.2 1268 1352.4 1270.5C1357.6 1273 1364 1275.3 1369.9 1277.3C1375.7 1279.3 1381.5 1280.5 1387.3 1282.5C1393.2 1284.6 1399 1287.9 1404.8 1289.5C1410.7 1291.1 1417.1 1291.6 1422.3 1292.1C1427.6 1292.7 1434 1292.9 1436.3 1293C1437.5 1290.4 1441.3 1285.7 1443.3 1277.3C1445.3 1268.8 1446.3 1255.4 1448.1 1242.3C1449.9 1229.2 1451.9 1213.2 1453.9 1198.6C1455.9 1184 1458.2 1168 1460.2 1154.9C1462.1 1141.8 1464.4 1128.4 1465.8 1120C1467.1 1111.6 1467.5 1109.6 1468.3 1104.6C1469.1 1099.7 1469.8 1095 1470.7 1090.2C1471.6 1085.4 1472.7 1079.7 1473.6 1075.7C1474.4 1071.7 1474.7 1069.6 1475.9 1066.1C1477.1 1062.5 1478.9 1058.2 1480.7 1054.5C1482.5 1050.8 1484.6 1047.3 1486.5 1043.9C1488.4 1040.5 1490.2 1037.3 1492.3 1034.3C1494.4 1031.2 1496.8 1028.3 1499 1025.6C1501.3 1022.8 1503.4 1020.4 1505.8 1017.9C1508.2 1015.3 1510.9 1012.6 1513.5 1010.1C1516.1 1007.7 1518.6 1005.5 1521.2 1003.4C1523.8 1001.3 1526.4 999.5 1528.9 997.6C1531.5 995.7 1534.1 993.6 1536.6 991.8C1539.2 990.1 1541.8 988.2 1544.4 987C1546.9 985.8 1549.2 985.2 1552.1 984.6C1555 983.9 1558.5 983.9 1561.7 983.1C1564.9 982.4 1568.1 981.4 1571.4 980.3C1574.6 979.1 1577.8 977.4 1581 976.4C1584.2 975.3 1587.4 974.5 1590.6 974C1593.9 973.5 1597.1 973.4 1600.3 973.5C1603.5 973.6 1606.6 974.4 1609.9 974.5C1613.3 974.5 1618.8 974.1 1620.5 974C1620.9 975.7 1622.2 979.2 1623 984.1C1623.8 989 1624.6 997 1625.3 1003.4C1626.1 1009.8 1626.8 1015.4 1627.6 1022.7C1628.4 1029.9 1629.4 1038.8 1630.4 1046.8C1631.3 1054.8 1632.3 1062.9 1633.3 1070.9C1634.3 1078.9 1635.4 1087 1636.5 1095C1637.5 1103 1638.2 1108 1639.8 1119.1C1641.4 1130.2 1644.4 1151 1646.1 1161.7C1647.7 1172.4 1647.8 1176.2 1649.7 1183.4C1651.6 1190.6 1654.4 1197.9 1657.3 1205.1C1660.2 1212.3 1662.5 1219.6 1667 1226.8C1671.5 1234 1679.6 1243.2 1684.4 1248.5C1689.2 1253.8 1691.8 1255.8 1696 1258.8C1700.2 1261.8 1704.8 1263.7 1709.4 1266.8C1713.9 1269.9 1718.7 1274.1 1723.4 1277.3C1728 1280.5 1732.1 1284 1737.3 1286C1742.6 1288.1 1749 1288.5 1754.8 1289.5C1760.7 1290.5 1767.1 1291.4 1772.3 1292.1C1777.6 1292.9 1782.8 1293.4 1786.3 1293.9C1789.8 1294.3 1792.1 1294.6 1793.3 1294.8C1794.2 1291.8 1796.9 1286 1798.5 1277.3C1800.2 1268.5 1801.2 1256.9 1803.1 1242.3C1804.9 1227.7 1807.4 1207.3 1809.7 1189.9C1812 1172.4 1814.7 1153.3 1817 1137.4C1819.4 1121.5 1822.3 1104.2 1823.8 1094.6C1825.4 1085.1 1825.5 1085 1826.4 1080.2C1827.4 1075.4 1828.5 1070.2 1829.5 1065.7C1830.6 1061.2 1831.4 1057.2 1832.8 1053.2C1834.1 1049.2 1835.8 1045.3 1837.6 1041.6C1839.4 1037.9 1841.3 1034.2 1843.4 1031C1845.5 1027.8 1847.7 1025.1 1850.1 1022.3C1852.6 1019.6 1855.3 1017 1857.9 1014.6C1860.4 1012.2 1863 1009.8 1865.6 1007.9C1868.1 1005.9 1870.6 1004.6 1873.3 1003C1876 1001.4 1879.1 1000.3 1882 998.2C1884.9 996.1 1887.9 992.8 1890.6 990.5C1893.4 988.3 1895.8 986.2 1898.4 984.7C1900.9 983.3 1903.5 982.5 1906.1 981.8C1908.6 981.1 1911.2 981.2 1913.8 980.4C1916.4 979.6 1918.9 978.5 1921.5 977C1924.1 975.5 1926.6 972.8 1929.2 971.2C1931.8 969.6 1934.4 968.2 1936.9 967.4C1939.5 966.6 1941.8 966.5 1944.6 966.4C1947.5 966.3 1951.1 967 1954.3 966.9C1957.5 966.7 1960.7 965.5 1963.9 965.4C1967.1 965.3 1971 966 1973.6 966.4C1976.1 966.8 1978.4 967.6 1979.4 967.8C1979.5 969.7 1979.8 973.9 1980.3 978.9C1980.8 984 1981.7 991.8 1982.4 998.2C1983.1 1004.6 1983.8 1011.1 1984.5 1017.5C1985.2 1023.9 1985.9 1030.4 1986.6 1036.8C1987.2 1043.2 1987.9 1049.6 1988.6 1056.1C1989.2 1062.5 1989.9 1068.9 1990.6 1075.4C1991.4 1081.8 1992.2 1089 1992.9 1094.6C1993.6 1100.3 1993.2 1097.9 1994.8 1109.1C1996.3 1120.3 2000.2 1149.3 2002.1 1161.7C2004 1174.1 2004.7 1176.2 2006.2 1183.4C2007.8 1190.6 2009.4 1197.9 2011.7 1205.1C2014 1212.3 2017.1 1219.8 2020.3 1226.8C2023.5 1233.8 2028.2 1242 2031 1247C2033.8 1252 2034.6 1253.1 2037.1 1256.6C2039.6 1260.1 2044.5 1266.1 2046 1268"/>
<path class="cv" stroke="#ff0000" d="M268 1304C278.3 1304 310.1 1304 330 1304C349.9 1304 377.9 1304 387.5 1304L387.5 1193.2C387.9 1192.1 388.7 1188.1 389.6 1186.2C390.5 1184.4 391.4 1183.7 393.1 1182C394.9 1180.4 396.6 1178.3 400.1 1176.4C403.6 1174.6 407.1 1172.7 414.1 1170.8C421.1 1169 432.8 1166.7 442.2 1165.2C451.5 1163.7 460.8 1162.7 470.2 1161.7C479.5 1160.8 488.9 1160.1 498.2 1159.6C507.5 1159.1 519.1 1159.2 526.2 1158.9C533.4 1158.6 534.6 1158.1 541 1158C547.4 1157.9 560.7 1158.3 564.6 1158.4L565.2 1284C566.3 1284.7 567.9 1286.2 572 1288C576.1 1289.8 582.5 1293.2 590 1295C597.5 1296.8 603.7 1298.1 617 1299C630.3 1299.9 649.1 1300.1 670 1300.5C690.9 1300.9 730.3 1301.3 742.4 1301.5L742.6 1203C743 1201.3 744 1195.5 745 1193C746 1190.5 746.7 1189.7 748.5 1188.1C750.3 1186.5 753.5 1184.7 756 1183.5C758.5 1182.3 759 1182.5 763.8 1181.2C768.6 1179.9 776.1 1177.3 784.9 1175.9C793.7 1174.5 804.3 1173.5 816.6 1172.8C828.9 1172.1 844.7 1171.9 858.8 1171.7C872.9 1171.5 890.8 1171.6 901 1171.7C911.2 1171.8 917 1172.4 920.2 1172.6L920.6 1287C922 1287.7 924.1 1289.3 929 1291.3C933.9 1293.3 940.6 1297.3 949.9 1299.1C959.2 1300.9 967.4 1301.5 984.9 1302C1002.4 1302.5 1035.9 1302.2 1054.8 1302.3C1073.7 1302.3 1091 1302.3 1098.3 1302.3L1098.6 1206C1099 1204.3 1099.8 1198.4 1101 1196C1102.2 1193.6 1102.7 1193.1 1105.5 1191.5C1108.3 1189.9 1113.7 1187.7 1117.8 1186.4C1121.9 1185.1 1124.6 1184.6 1130 1183.5C1135.4 1182.4 1141.7 1181.1 1150 1180C1158.3 1178.9 1169.2 1177.8 1180 1177C1190.8 1176.2 1203.3 1175.6 1215 1175C1226.7 1174.4 1239.8 1173.9 1250 1173.5C1260.2 1173.1 1271.9 1172.9 1276.3 1172.8L1276.7 1284C1278.2 1284.8 1280.6 1286.8 1285.9 1288.6C1291.2 1290.4 1300.5 1293.2 1308.7 1294.8C1316.9 1296.4 1321.8 1297.4 1334.9 1298.3C1348 1299.2 1367.4 1299.7 1387.3 1300C1407.2 1300.3 1443.3 1300.2 1454.5 1300.3L1454.8 1204C1455.2 1202.5 1456 1197.1 1457 1195C1458 1192.9 1458.4 1192.8 1460.8 1191.6C1463.2 1190.4 1468.1 1189.2 1471.3 1188.1C1474.5 1187 1475.2 1186.1 1480 1185C1484.8 1183.9 1491.7 1182.6 1500 1181.5C1508.3 1180.4 1520 1179.3 1530 1178.5C1540 1177.7 1548.3 1176.9 1560 1176.5C1571.7 1176.1 1587.9 1176 1600 1175.9C1612.1 1175.8 1627 1175.9 1632.4 1175.9L1632.8 1285C1633.9 1285.8 1635.1 1287.4 1639.4 1289.5C1643.7 1291.6 1651.1 1295.7 1658.7 1297.4C1666.3 1299.2 1671.8 1299.5 1684.9 1300C1698 1300.5 1716.2 1300.2 1737.3 1300.3C1758.3 1300.4 1798.9 1300.5 1811.2 1300.5L1811.4 1204C1811.8 1202.7 1812.6 1197.9 1814 1196C1815.4 1194.1 1815.9 1194.4 1819.8 1192.7C1823.7 1191 1831.1 1187.7 1837.2 1185.9C1843.3 1184.1 1848.5 1183.2 1856.5 1182.1C1864.5 1181 1875.8 1179.8 1885.4 1179.2C1895.1 1178.6 1903.2 1178.4 1914.4 1178.2C1925.7 1178 1940.6 1178 1952.9 1177.8C1965.2 1177.6 1982.6 1177.4 1988.5 1177.3L1988.9 1284C1991 1285 1995.9 1287.9 2001.2 1289.7C2006.5 1291.5 2014.5 1293.3 2020.5 1294.6C2026.5 1295.9 2033 1296.8 2037.2 1297.4C2041.5 1298.1 2044.5 1298.3 2046 1298.5"/>
<path class="cv" stroke="#000000" d="M268 1306L386.6 1306L387 1263.3C387.3 1263 387.9 1262.1 388.9 1261.6C389.9 1261.2 388.9 1261.2 393.1 1260.5C397.3 1259.9 403.6 1258.5 414.1 1257.7C424.6 1256.9 439.8 1256.2 456.2 1255.6C472.5 1255 494.9 1254.5 512.2 1254.2C529.5 1253.9 551.4 1253.9 560 1253.8C568.6 1253.7 563.3 1253.7 564 1253.7L564.4 1297C564.8 1297.7 565.7 1299.9 567 1301C568.3 1302.1 566.5 1302.7 572 1303.5C577.5 1304.3 583.6 1305.5 599.9 1306.1C616.2 1306.7 646.2 1306.8 669.9 1307C693.6 1307.2 730.2 1307 742.2 1307L742.5 1268C742.9 1267.4 743.7 1265.2 745 1264.3C746.3 1263.4 744.5 1263.6 750.3 1262.4C756.1 1261.2 768.4 1258.5 780 1257.2C791.6 1255.9 805 1255.3 820 1254.6C835 1253.9 853.2 1253.5 870 1253.2C886.8 1252.9 912.5 1252.9 921 1252.8L921.3 1299C921.9 1299.7 923.1 1302 925 1303C926.9 1304 925.3 1304.5 932.4 1305.2C939.5 1305.9 939.7 1306.7 967.4 1307C995.1 1307.3 1076.6 1307 1098.4 1307L1098.7 1263C1099.1 1262.3 1099.6 1260.1 1101 1259C1102.4 1257.9 1102.5 1257.6 1107.3 1256.3C1112.1 1255 1119.5 1252.4 1130 1251C1140.5 1249.6 1155 1248.7 1170 1248C1185 1247.3 1202.2 1247.1 1220 1246.7C1237.8 1246.3 1267.5 1246 1277 1245.8L1277.4 1296.5C1277.8 1297.1 1278.6 1299.1 1280 1300C1281.4 1300.9 1279.7 1301 1285.9 1301.7C1292.1 1302.4 1303.4 1303.8 1317.4 1304.4C1331.4 1305 1347.1 1305.1 1369.9 1305.2C1392.8 1305.3 1440.4 1305.2 1454.5 1305.2L1454.8 1264C1455.2 1263.3 1455.7 1261 1457 1260C1458.3 1259 1458.7 1258.9 1462.5 1258C1466.3 1257.1 1470.4 1255.3 1480 1254.5C1489.6 1253.7 1503.3 1253.3 1520 1253C1536.7 1252.7 1561.3 1252.8 1580 1252.8C1598.7 1252.8 1623.6 1252.8 1632.3 1252.8L1632.6 1297C1633 1297.7 1633.6 1300.1 1635 1301C1636.4 1301.9 1635.8 1301.9 1641.2 1302.6C1646.6 1303.3 1651.4 1304.6 1667.4 1305.2C1683.4 1305.8 1713.4 1305.9 1737.3 1306.1C1761.2 1306.2 1798.7 1306.1 1811 1306.1L1811.2 1266C1811.7 1265.3 1812.9 1263 1814 1262C1815.1 1261 1814 1261.2 1817.9 1260.2C1821.8 1259.2 1829.2 1257.3 1837.2 1256.3C1845.2 1255.3 1853.2 1254.9 1866.1 1254.4C1879 1253.9 1899.9 1253.7 1914.4 1253.5C1928.9 1253.3 1940.6 1253.5 1952.9 1253.5C1965.2 1253.5 1982.5 1253.8 1988.4 1253.8L1988.8 1296C1989.3 1296.6 1989.9 1298.7 1992 1299.5C1994.1 1300.3 1996.5 1300 2001.2 1300.7C2006 1301.4 2014.5 1302.9 2020.5 1303.6C2026.5 1304.2 2033 1304.4 2037.2 1304.6C2041.5 1304.8 2044.5 1304.9 2046 1305"/>
</g>
<g class="ax">
<path d="M269.4 70.6 H2042.6 V1393.5" stroke-linecap="butt" stroke-linejoin="round"/>
</g>
<text class="tk" x="233.7" y="1328.2" text-anchor="end">0</text>
<text class="tk" x="233.7" y="1122.2" text-anchor="end">5</text>
<text class="tk" x="233.7" y="916.2" text-anchor="end">10</text>
<text class="tk" x="233.7" y="710.2" text-anchor="end">15</text>
<text class="tk" x="233.7" y="504.2" text-anchor="end">20</text>
<text class="tk" x="233.7" y="298.2" text-anchor="end">25</text>
<text class="tk" x="233.7" y="92.2" text-anchor="end">30</text>
<text class="tk" x="274.7" y="1492.3" text-anchor="middle">0</text>
<text class="tk" x="716.7" y="1492.3" text-anchor="middle">50</text>
<text class="tk" x="1158.6" y="1492.3" text-anchor="middle">100</text>
<text class="tk" x="1600.6" y="1492.3" text-anchor="middle">150</text>
<text class="tk" x="2042.5" y="1492.3" text-anchor="middle">200</text>
<text class="tt" transform="translate(996.2 1608.8) scale(0.94 1)" letter-spacing="2.95">Time (s)</text>
<text class="tt" transform="translate(110.4 1261.7) rotate(-90) scale(0.94 1)" letter-spacing="3.57">Current density (µA/mg)</text>
<path class="lg" stroke="#008000" d="M310.6 117.8 H448.6"/>
<text class="lt" x="463.5" y="139.1">Au@TiO<tspan class="sb" dx="-3.4" dy="23.6">2</tspan><tspan dx="2.2" dy="-23.6">/Cu</tspan><tspan class="sb" dx="-3.4" dy="23.6">2</tspan><tspan dx="2.2" dy="-23.6">O</tspan></text>
<path class="lg" stroke="#ff00ff" d="M310.6 215 H448.6"/>
<text class="lt" x="463.5" y="236.3">Au@TiO<tspan class="sb" dx="-3.4" dy="23.6">2</tspan><tspan dx="2.2" dy="-23.6">/Cu</tspan><tspan class="sb" dx="-3.4" dy="23.6">2</tspan><tspan dx="2.2" dy="-23.6">O</tspan><tspan dx="-3">@Au</tspan></text>
<path class="lg" stroke="#0000ff" d="M310.6 312.2 H448.6"/>
<text class="lt" x="463.5" y="333.5">Au@TiO<tspan class="sb" dx="-3.4" dy="23.6">2</tspan></text>
<path class="lg" stroke="#ff0000" d="M310.6 409.3 H448.6"/>
<text class="lt" x="463.5" y="430.6">Au@Cu<tspan class="sb" dx="-3.4" dy="23.6">2</tspan><tspan dx="2.2" dy="-23.6">O/TiO</tspan><tspan class="sb" dx="-3.4" dy="23.6">2</tspan></text>
<path class="lg" stroke="#000000" d="M310.6 506.4 H448.6"/>
<text class="lt" x="463.5" y="527.7">Cu<tspan class="sb" dx="-3.4" dy="23.6">2</tspan><tspan dx="2.2" dy="-23.6">O/TiO</tspan><tspan class="sb" dx="-3.4" dy="23.6">2</tspan></text>
</svg>
</body>
</html>
